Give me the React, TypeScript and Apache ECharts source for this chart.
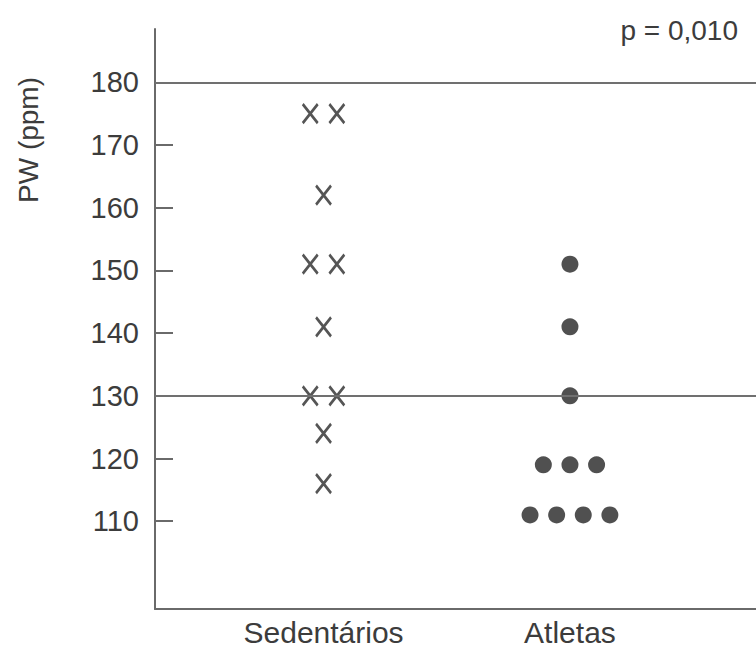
import React, { useEffect, useRef } from "react";
import * as echarts from "echarts";

const categories = ["Sedentários", "Atletas"];
const sedentaryValues = [175, 175, 162, 151, 151, 141, 130, 130, 124, 116];
const athleteValues = [151, 141, 130, 119, 119, 119, 111, 111, 111, 111];
const yTickValues = [110, 120, 130, 140, 150, 160, 170];
const yLabelValues = [110, 120, 130, 140, 150, 160, 170, 180];
const referenceLines = [180, 130];
const pText = "p = 0,010";
const yAxisTitle = "PW (ppm)";

const FONT = "'Liberation Sans', Arial, sans-serif";
const SPREAD = 0.108;

function dotPlot(values: number[], catIndex: number): number[][] {
  const counts: Record<number, number> = {};
  values.forEach((v) => (counts[v] = (counts[v] || 0) + 1));
  const seen: Record<number, number> = {};
  return values.map((v) => {
    const n = counts[v];
    const i = seen[v] || 0;
    seen[v] = i + 1;
    return [catIndex + (i - (n - 1) / 2) * SPREAD, v];
  });
}

export default function App() {
  const ref = useRef<HTMLDivElement>(null);
  useEffect(() => {
    if (!ref.current) return;
    const chart = echarts.init(ref.current, undefined, { renderer: "svg" });
    const gray = "#6a6a6a";
    const textColor = "#3c3c3c";
    chart.setOption({
      animation: false,
      backgroundColor: "#ffffff",
      grid: { left: 155, right: 0, top: 29, bottom: 36 },
      xAxis: {
        type: "value",
        min: -0.684,
        max: 1.755,
        splitLine: { show: false },
        axisTick: { show: false },
        axisLine: { show: true, lineStyle: { color: gray, width: 2 } },
        axisLabel: {
          customValues: [0, 1],
          formatter: (v: number) => categories[Math.round(v)] ?? "",
          color: textColor,
          fontFamily: FONT,
          fontSize: 30,
          margin: 8,
        },
      },
      yAxis: {
        type: "value",
        min: 96,
        max: 188.5,
        splitLine: { show: false },
        axisLine: { show: true, onZero: false, lineStyle: { color: gray, width: 2 } },
        axisTick: {
          show: true,
          inside: true,
          length: 18,
          customValues: yTickValues,
          lineStyle: { color: gray, width: 2 },
        },
        axisLabel: {
          customValues: yLabelValues,
          color: textColor,
          fontFamily: FONT,
          fontSize: 29,
          margin: 16,
        },
      },
      graphic: [
        {
          type: "text",
          x: 28,
          y: 140,
          rotation: Math.PI / 2,
          style: {
            text: yAxisTitle,
            fill: textColor,
            font: `28px ${FONT}`,
            align: "center",
            verticalAlign: "middle",
          },
        },
        {
          type: "text",
          x: 738,
          y: 30,
          style: {
            text: pText,
            fill: textColor,
            font: `28px ${FONT}`,
            align: "right",
            verticalAlign: "middle",
          },
        },
      ],
      series: [
        {
          type: "scatter",
          name: categories[0],
          data: dotPlot(sedentaryValues, 0),
          symbol: "path://M0,0L14,18M14,0L0,18",
          symbolSize: [15, 19],
          itemStyle: { color: "rgba(0,0,0,0)", borderColor: "#555555", borderWidth: 2.8, opacity: 1 },
          z: 3,
          markLine: {
            silent: true,
            symbol: ["none", "none"],
            label: { show: false },
            lineStyle: { color: "#707070", width: 2.2, type: "solid" },
            data: referenceLines.map((v) => ({ yAxis: v })),
          },
        },
        {
          type: "scatter",
          name: categories[1],
          data: dotPlot(athleteValues, 1),
          symbol: "circle",
          symbolSize: 17,
          itemStyle: { color: "#505050", opacity: 1 },
          z: 3,
        },
      ],
    });
    return () => chart.dispose();
  }, []);
  return (
    <div
      ref={ref}
      style={{ position: "fixed", left: 0, top: 0, width: 756, height: 647, background: "#fff" }}
    />
  );
}
